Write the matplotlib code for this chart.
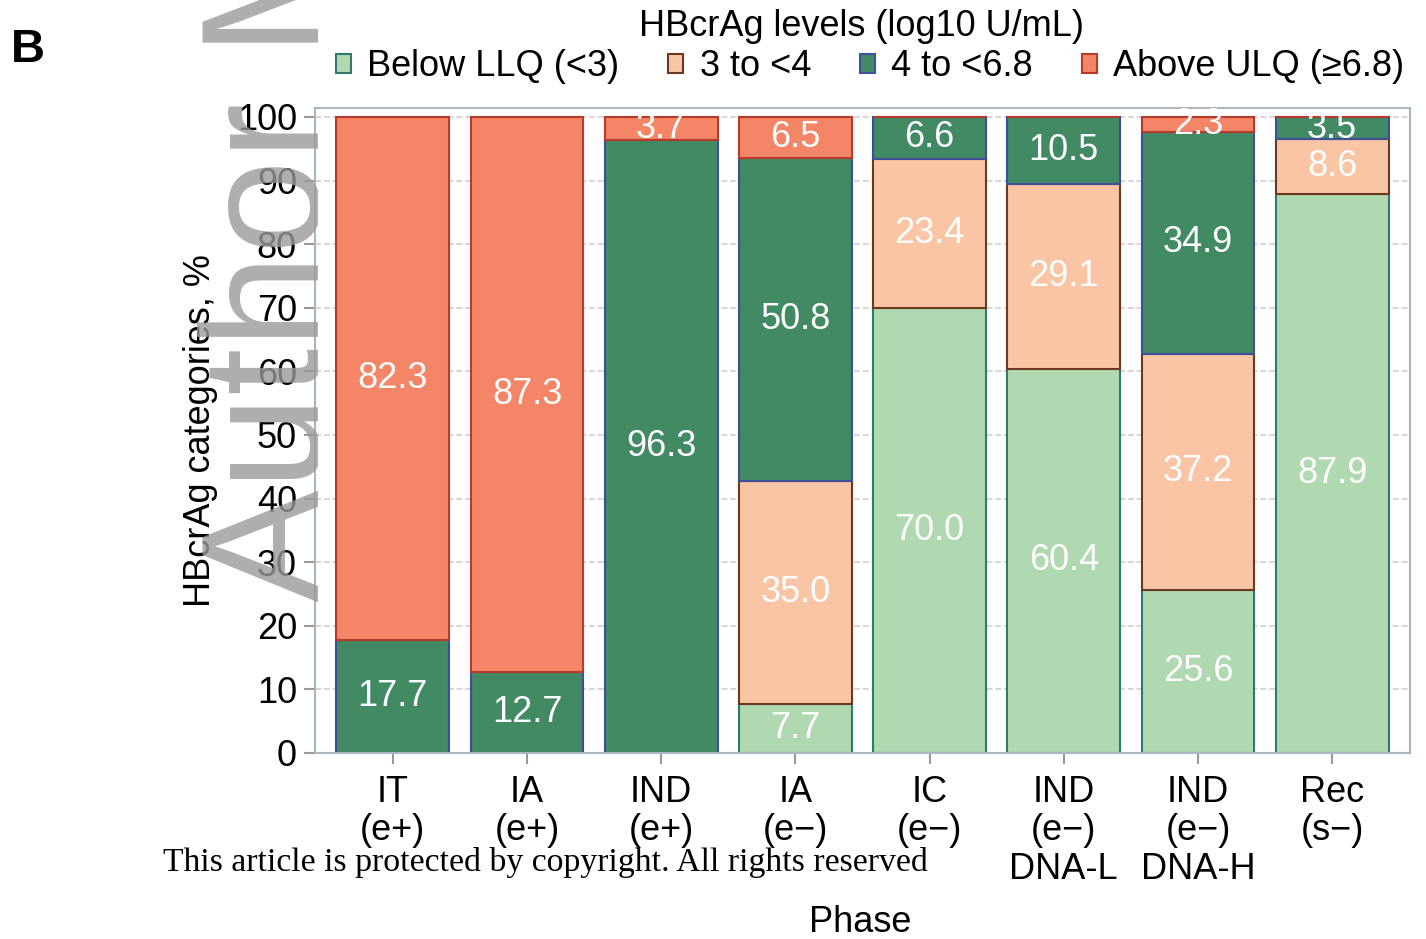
import numpy as np
import matplotlib.pyplot as plt
from matplotlib.patches import Patch
from matplotlib.transforms import Bbox, TransformedBbox

plt.rcParams['font.family'] = ['Liberation Sans', 'DejaVu Sans']

# HBcrAg categories by phase (%)
phases = ["IT\n(e+)", "IA\n(e+)", "IND\n(e+)", "IA\n(e\u2212)", "IC\n(e\u2212)",
          "IND\n(e\u2212)\nDNA-L", "IND\n(e\u2212)\nDNA-H", "Rec\n(s\u2212)"]
below_llq = [0, 0, 0, 7.7, 70.0, 60.4, 25.6, 87.9]
three_to_4 = [0, 0, 0, 35.0, 23.4, 29.1, 37.2, 8.6]
four_to_68 = [17.7, 12.7, 96.3, 50.8, 6.6, 10.5, 34.9, 3.5]
above_ulq = [82.3, 87.3, 3.7, 6.5, 0, 0, 2.3, 0]

series = [below_llq, three_to_4, four_to_68, above_ulq]
names = ["Below LLQ (<3)", "3 to <4", "4 to <6.8", "Above ULQ (\u22656.8)"]
colors = ["#b0d9b1", "#fac5a5", "#428a63", "#f48566"]
edges = ["#2f7a6a", "#6b3a1e", "#3d4f9a", "#b83a2a"]

fig = plt.figure(figsize=(14.26, 9.39), dpi=100)
ax = fig.add_axes([315 / 1426, 1 - 753 / 939, 1095 / 1426, 645 / 939])

x = np.arange(len(phases))
bottom = np.zeros(len(phases))
for vals, c, ec in zip(series, colors, edges):
    vals = np.array(vals)
    ax.bar(x, vals, 0.84, bottom=bottom, color=c, edgecolor=ec, linewidth=1.5, zorder=2)
    for xi, b, v in zip(x, bottom, vals):
        if v > 0:
            ax.text(xi, b + v / 2, f"{v:.1f}", ha='center', va='center',
                    color='white', fontsize=26, zorder=3)
    bottom += vals

ax.set_xlim(-0.58, 7.58)
ax.set_ylim(0, 101.4)
ax.set_yticks(range(0, 101, 10))
ax.set_xticks(x)
ax.set_xticklabels(phases, fontsize=26, linespacing=1.12)
ax.tick_params(axis='y', labelsize=26, color='#999999', length=8, width=1.5, pad=5)
ax.tick_params(axis='x', color='#999999', length=8, width=1.5, pad=8)
ax.yaxis.grid(True, color='#d0d0d0', linestyle='--', linewidth=1.2, zorder=0)
ax.set_axisbelow(True)
for s in ax.spines.values():
    s.set_color('#a9b6c0')
    s.set_linewidth(1.5)

ax.set_ylabel("HBcrAg categories, %", fontsize=26)
ax.yaxis.set_label_coords((218 - 315) / 1095, 0.5)
fig.text(860 / 1426, 1 - 922 / 939, "Phase", ha='center', va='center', fontsize=26)

# legend
handles = [Patch(facecolor=c, edgecolor=ec, linewidth=1.5) for c, ec in zip(colors, edges)]
fig.text(862 / 1426, 1 - 27 / 939, "HBcrAg levels (log10 U/mL)", ha='center', va='center', fontsize=26)
fig.legend(handles, names, loc='center', bbox_to_anchor=(870 / 1426, 1 - 67 / 939), ncol=4,
           frameon=False, fontsize=26, handlelength=0.42, handleheight=0.42,
           handletextpad=0.45, columnspacing=1.35, borderpad=0)

fig.text(28 / 1426, 1 - 50 / 939, "B", fontsize=34, fontweight='bold', ha='center', va='center')

# watermark and footer from the source page
wm = fig.text(277 / 1426, 1 - 602 / 939, "Author Manuscript", rotation=90, fontsize=122,
              color='#9a9a9a', alpha=0.8, ha='center', va='bottom', zorder=10)
wm.set_clip_box(TransformedBbox(Bbox([[0, 0], [318 / 1426, 1]]), fig.transFigure))
wm.set_clip_on(True)
fig.text(163 / 1426, 1 - 863 / 939, "This article is protected by copyright. All rights reserved",
         family=['Liberation Serif', 'DejaVu Serif'], fontsize=24.3, ha='left', va='center')

fig.savefig("out.png", dpi=100)
